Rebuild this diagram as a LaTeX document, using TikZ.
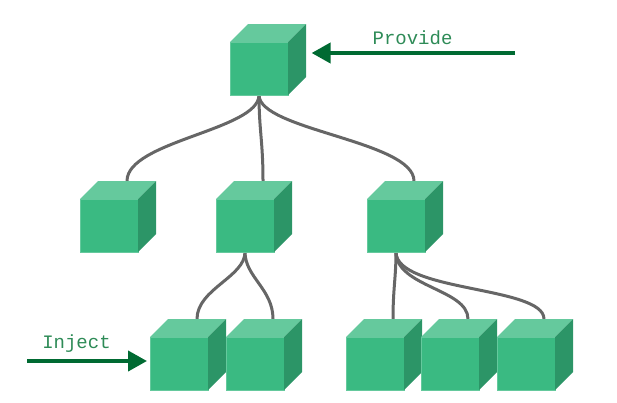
\documentclass[tikz,border=0pt]{standalone}
\usepackage{fontspec}
\setmonofont{Liberation Mono}
\usetikzlibrary{arrows.meta,backgrounds}
\definecolor{cfront}{RGB}{58,186,130}
\definecolor{ctop}{RGB}{101,201,157}
\definecolor{cside}{RGB}{44,149,103}
\definecolor{cline}{RGB}{102,102,102}
\definecolor{carrow}{RGB}{0,106,50}
\definecolor{ctext}{RGB}{46,139,87}
\tikzset{
  cubefront/.style={rectangle, fill=cfront, draw=ctop, line width=0.6pt,
    minimum width=58pt, minimum height=53pt, inner sep=0pt, anchor=north west},
  link/.style={draw=cline, line width=3pt},
  bigarrow/.style={draw=carrow, line width=4pt, -{Triangle[length=19pt,width=20pt]}},
  lbl/.style={text=ctext, font=\ttfamily\fontsize{19}{19}\selectfont, anchor=base, inner sep=0pt},
  pics/cube/.style={code={
    \node[cubefront] (-front) at (0,0) {};
    \fill[ctop] (0,0) -- (18,-18) -- (76,-18) -- (58,0) -- cycle;
    \fill[cside] (58,0) -- (76,-18) -- (76,35) -- (58,53) -- cycle;
    \coordinate (-top) at (47,-18);
    \coordinate (-bot) at (29,53);
  }}
}
\begin{document}
\begin{tikzpicture}[x=1pt,y=-1pt]
\useasboundingbox (0,0) rectangle (617,402);
% cubes
\pic (top) at (230,42) {cube};
\pic (m1) at (80,199) {cube};
\pic (m2) at (216,199) {cube};
\pic (m3) at (367,199) {cube};
\pic (b1) at (150,337) {cube};
\pic (b2) at (226,337) {cube};
\pic (b3) at (346,337) {cube};
\pic (b4) at (421,337) {cube};
\pic (b5) at (497,337) {cube};
% connectors
\begin{scope}[on background layer]
\draw[link] (top-bot) .. controls +(0,35) and +(0,-40) .. (m1-top);
\draw[link] (top-bot) .. controls +(0,35) and +(0,-40) .. (m2-top);
\draw[link] (top-bot) .. controls +(0,35) and +(0,-40) .. (m3-top);
\draw[link] (m2-bot) .. controls +(0,25) and +(0,-30) .. (b1-top);
\draw[link] (m2-bot) .. controls +(0,25) and +(0,-30) .. (b2-top);
\draw[link] (m3-bot) .. controls +(0,25) and +(0,-30) .. (b3-top);
\draw[link] (m3-bot) .. controls +(0,35) and +(0,-30) .. (b4-top);
\draw[link] (m3-bot) .. controls +(0,40) and +(0,-33) .. (b5-top);
\end{scope}
% arrows
\coordinate (provsrc) at (515,53);
\coordinate (injsrc) at (27,361);
\draw[bigarrow] (provsrc) -- ([shift={(23,11)}]top-front.north east);
\draw[bigarrow] (injsrc) -- ([shift={(-3,24)}]b1-front.north west);
\node[lbl] (provide) at (412.5,44) {Provide};
\node[lbl] (inject) at (76.5,348) {Inject};
\end{tikzpicture}
\end{document}
